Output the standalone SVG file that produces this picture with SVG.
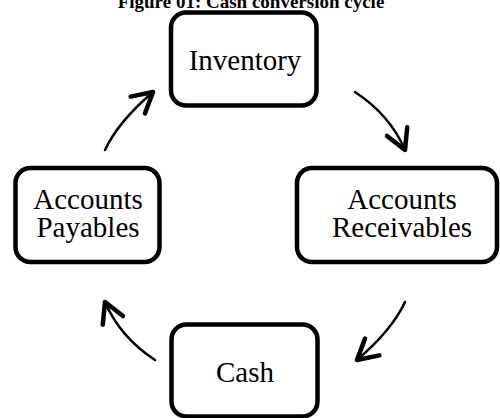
<svg xmlns="http://www.w3.org/2000/svg" width="500" height="418" viewBox="0 0 500 418">
<defs>
<style>
.box{fill:#fff;stroke:#000;stroke-width:4.5}
.lbl{font-family:"Liberation Serif","Times New Roman",serif;font-size:29px;fill:#000;text-anchor:middle}
.title{font-family:"Liberation Serif","Times New Roman",serif;font-size:19px;font-weight:bold;fill:#000;text-anchor:middle}
.arr{fill:none;stroke:#000;stroke-width:2.5;stroke-linecap:round;marker-end:url(#head)}
</style>
<marker id="head" markerUnits="userSpaceOnUse" viewBox="-24 -14 28 28" refX="0" refY="0" markerWidth="28" markerHeight="28" orient="auto">
<path d="M-20,-11 L0,0 L-20,11" fill="none" stroke="#000" stroke-width="4.5" stroke-linecap="round" stroke-linejoin="round"/>
</marker>
</defs>
<rect width="500" height="418" fill="#fff"/>
<text class="title" x="251" y="7.5">Figure 01: Cash conversion cycle</text>
<g id="inventory">
<rect class="box" x="171" y="12.5" width="145.5" height="93" rx="15"/>
<text class="lbl" x="245" y="70">Inventory</text>
</g>
<g id="receivables">
<rect class="box" x="297" y="168" width="200" height="94" rx="15"/>
<text class="lbl" x="402" y="209">Accounts</text>
<text class="lbl" x="402" y="237">Receivables</text>
</g>
<g id="cash">
<rect class="box" x="171.5" y="324.5" width="146" height="92" rx="15"/>
<text class="lbl" x="245" y="382">Cash</text>
</g>
<g id="payables">
<rect class="box" x="15.5" y="168" width="144" height="94" rx="15"/>
<text class="lbl" x="88" y="209">Accounts</text>
<text class="lbl" x="88" y="237">Payables</text>
</g>
<g id="connectors">
<path class="arr" d="M355,92 Q390,115 405,150"/>
<path class="arr" d="M405,302 Q392,330 357,360"/>
<path class="arr" d="M155,360 Q120,337 105,302"/>
<path class="arr" d="M105,150 Q118,122 153,92"/>
</g>
</svg>
